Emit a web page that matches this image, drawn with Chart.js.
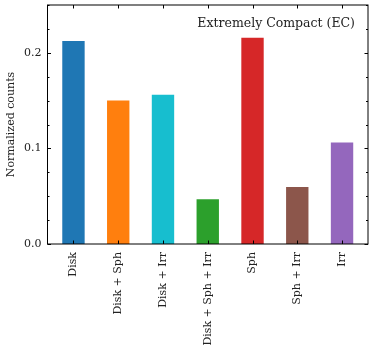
<!DOCTYPE html>
<html><head><meta charset="utf-8">
<script src="https://cdn.jsdelivr.net/npm/chart.js@4/dist/chart.umd.min.js"></script>
<style>html,body{margin:0;padding:0;background:#fff}#wrap{width:374px;height:356px}</style>
</head><body><div id="wrap"><canvas id="c" width="374" height="356"></canvas></div>
<script>
const categories = ["Disk", "Disk + Sph", "Disk + Irr", "Disk + Sph + Irr", "Sph", "Sph + Irr", "Irr"];
const values = [0.2123, 0.1500, 0.1560, 0.0469, 0.2158, 0.0595, 0.1063];
const colors = ["#1f77b4", "#ff7f0e", "#17becf", "#2ca02c", "#d62728", "#8c564b", "#9467bd"];
const yTicks = [0.0, 0.1, 0.2];
const annotation = "Extremely Compact (EC)";
const yTitle = "Normalized counts";
const FONT = "'DejaVu Serif', serif";

const frame = {
  id: 'frame',
  afterDraw(chart) {
    const {ctx, chartArea: a, scales} = chart;
    const x = scales.x, y = scales.y;
    ctx.save();
    ctx.strokeStyle = '#000';
    ctx.lineWidth = 1;
    ctx.strokeRect(a.left, a.top, a.right - a.left, a.bottom - a.top);
    ctx.beginPath();
    for (let v = 0; v <= 0.25 + 1e-9; v += 0.025) {
      const py = Math.round(y.getPixelForValue(v)) + 0.5;
      const major = Math.abs(v * 10 - Math.round(v * 10)) < 1e-6;
      const L = major ? 3.5 : 2;
      ctx.moveTo(a.left, py); ctx.lineTo(a.left + L, py);
      ctx.moveTo(a.right, py); ctx.lineTo(a.right - L, py);
    }
    categories.forEach((c, i) => {
      const px = Math.round(x.getPixelForValue(i)) + 0.5;
      ctx.moveTo(px, a.bottom); ctx.lineTo(px, a.bottom - 3.5);
      ctx.moveTo(px, a.top); ctx.lineTo(px, a.top + 3.5);
    });
    ctx.stroke();
    ctx.fillStyle = '#222';
    ctx.font = "12.5px " + FONT;
    ctx.textAlign = 'right';
    ctx.textBaseline = 'middle';
    ctx.fillText(annotation, a.right - 13, a.top + 19);
    ctx.restore();
  }
};

new Chart(document.getElementById('c'), {
  type: 'bar',
  data: {
    datasets: [{
      data: values.map((v, i) => ({x: i, y: v})),
      backgroundColor: colors,
      borderWidth: 0,
      barPercentage: 0.5,
      categoryPercentage: 1.0
    }]
  },
  options: {
    responsive: false,
    animation: false,
    events: [],
    layout: {padding: {left: 0, right: 6, top: 5, bottom: 0}},
    plugins: {legend: {display: false}, tooltip: {enabled: false}},
    scales: {
      x: {
        type: 'linear', min: -0.58, max: 6.58, offset: false,
        grid: {display: false, drawTicks: false}, border: {display: false},
        afterBuildTicks(s) { s.ticks = categories.map((c, i) => ({value: i})); },
        afterFit(s) { s.height = 112; s.paddingLeft = 0; s.paddingRight = 0; },
        ticks: {
          autoSkip: false, maxRotation: 90, minRotation: 90, padding: 8,
          color: '#222', font: {family: FONT, size: 11},
          callback: (v) => categories[v]
        }
      },
      y: {
        min: 0, max: 0.25,
        grid: {display: false, drawTicks: false}, border: {display: false},
        afterBuildTicks(s) { s.ticks = yTicks.map(v => ({value: v})); },
        afterFit(s) { s.width = 47.5; s.paddingTop = 0; s.paddingBottom = 0; },
        ticks: {padding: 6, color: '#222', font: {family: FONT, size: 11},
          callback: (v) => v.toFixed(1)},
        title: {display: true, text: yTitle, color: '#222', font: {family: FONT, size: 11}, padding: {top: 5, bottom: 0}}
      }
    }
  },
  plugins: [frame]
});
</script></body></html>
